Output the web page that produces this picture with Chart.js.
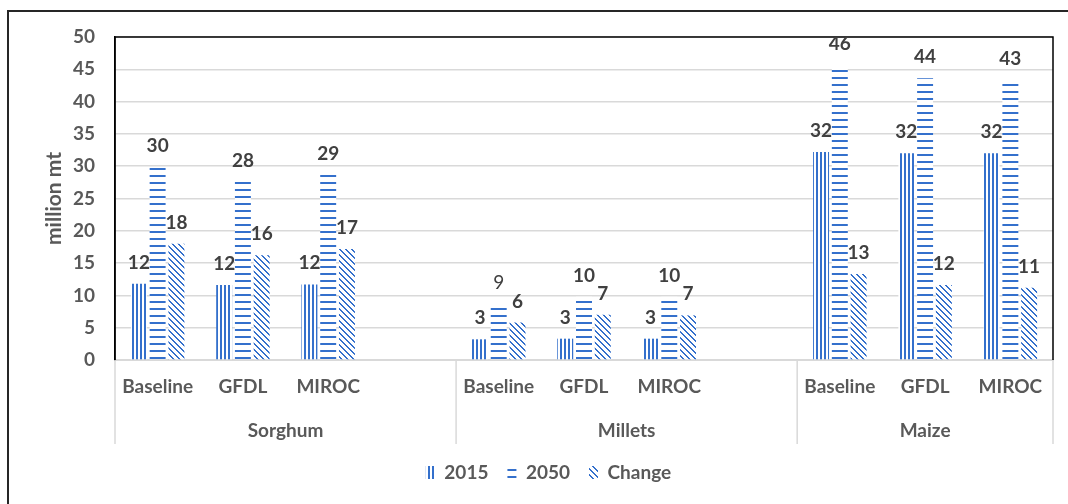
<!DOCTYPE html>
<html>
<head>
<meta charset="utf-8">
<script src="https://cdn.jsdelivr.net/npm/chart.js@4.4.1/dist/chart.umd.min.js"></script>
<style>
  html, body { margin: 0; padding: 0; background: #fff; }
  #wrap { width: 1068px; height: 504px; }
</style>
</head>
<body>
<div id="wrap"><canvas id="chart" width="1068" height="504"></canvas></div>
<script>
// Categorias (com espaços vazios entre os grupos, como no Excel)
const categories = ['Baseline', 'GFDL', 'MIROC', '', 'Baseline', 'GFDL', 'MIROC', '', 'Baseline', 'GFDL', 'MIROC'];
const groups = ['Sorghum', 'Millets', 'Maize'];
const groupRanges = [[0, 3], [4, 7], [8, 10]];

// Valores (million mt)
const values2015 = [11.8, 11.6, 11.7, null, 3.2, 3.3, 3.3, null, 32.2, 32.0, 32.0];
const values2050 = [29.8, 27.6, 28.7, null, 8.7, 9.8, 9.8, null, 45.6, 43.6, 43.3];
const valuesChange = [18.0, 16.2, 17.2, null, 5.8, 7.0, 6.9, null, 13.3, 11.6, 11.2];

const yMin = 0, yMax = 50, yStep = 5;

const BLUE = '#3470cc';
const FONT = 'Lato, "Open Sans", sans-serif';

// Padrões das barras
function criarPadrao(w, h, desenhar) {
    const c = document.createElement('canvas');
    c.width = w; c.height = h;
    const g = c.getContext('2d');
    g.fillStyle = '#fff';
    g.fillRect(0, 0, w, h);
    g.fillStyle = BLUE;
    desenhar(g);
    return g.createPattern(c, 'repeat');
}

const padraoVertical = criarPadrao(4, 4, g => g.fillRect(0, 0, 2, 4));
const padraoHorizontal = criarPadrao(4, 7, g => g.fillRect(0, 0, 4, 2));
const padraoDiagonal = criarPadrao(6, 6, g => {
    for (let i = 0; i < 6; i++) {
        g.fillRect(i, i, 1, 1);
        g.fillRect((i + 1) % 6, i, 1, 1);
    }
});

// Moldura externa e borda da área do gráfico
const molduraPlugin = {
    id: 'moldura',
    beforeDraw(chart) {
        const ctx = chart.ctx;
        ctx.save();
        ctx.fillStyle = '#fff';
        ctx.fillRect(0, 0, chart.width, chart.height);
        ctx.strokeStyle = '#262626';
        ctx.lineWidth = 2;
        ctx.strokeRect(8, 11, 1200, 700);
        ctx.restore();
    },
    beforeDatasetsDraw(chart) {
        const { ctx, chartArea: a } = chart;
        ctx.save();
        ctx.strokeStyle = '#000';
        ctx.lineWidth = 1.5;
        ctx.beginPath();
        ctx.moveTo(a.left, a.bottom);
        ctx.lineTo(a.left, a.top);
        ctx.lineTo(a.right, a.top);
        ctx.lineTo(a.right, a.bottom);
        ctx.stroke();
        ctx.restore();
    }
};

// Rótulos de dados acima das barras
const rotulosPlugin = {
    id: 'rotulos',
    afterDatasetsDraw(chart) {
        const { ctx, chartArea: a } = chart;
        ctx.save();
        ctx.beginPath();
        ctx.rect(a.left, a.top, a.right - a.left, a.bottom - a.top);
        ctx.clip();
        ctx.fillStyle = '#404040';
        ctx.textAlign = 'center';
        ctx.textBaseline = 'alphabetic';
        chart.data.datasets.forEach((ds, di) => {
            chart.getDatasetMeta(di).data.forEach((el, i) => {
                const v = ds.data[i];
                if (v == null) return;
                // no original o rótulo "9" de Millets/Baseline aparece sem negrito
                const peso = (di === 1 && i === 4) ? 'normal' : 'bold';
                ctx.font = peso + ' 19px ' + FONT;
                ctx.fillText(String(Math.round(v)), el.x, el.y - 15);
            });
        });
        ctx.restore();
    }
};

// Eixo de categorias em dois níveis
const gruposPlugin = {
    id: 'grupos',
    afterDraw(chart) {
        const { ctx, chartArea: a } = chart;
        const x = chart.scales.x;
        const meio = (x.getPixelForValue(1) - x.getPixelForValue(0)) / 2;
        ctx.save();
        ctx.strokeStyle = '#d9d9d9';
        ctx.lineWidth = 1.5;
        const divisorias = [a.left];
        groupRanges.forEach(r => divisorias.push(x.getPixelForValue(r[1]) + meio));
        divisorias.forEach(px => {
            ctx.beginPath();
            ctx.moveTo(px, a.bottom);
            ctx.lineTo(px, a.bottom + 84);
            ctx.stroke();
        });
        ctx.fillStyle = '#595959';
        ctx.font = 'bold 19px ' + FONT;
        ctx.textAlign = 'center';
        ctx.textBaseline = 'middle';
        groups.forEach((nome, gi) => {
            const r = groupRanges[gi];
            const ini = x.getPixelForValue(r[0]) - meio;
            const fim = x.getPixelForValue(r[1]) + meio;
            ctx.fillText(nome, (ini + fim) / 2, a.bottom + 71);
        });
        ctx.restore();
    }
};

const grafico = new Chart(document.getElementById('chart'), {
    type: 'bar',
    data: {
        labels: categories,
        datasets: [
            { label: '2015', data: values2015, backgroundColor: padraoVertical, borderWidth: 0 },
            { label: '2050', data: values2050, backgroundColor: padraoHorizontal, borderWidth: 0 },
            { label: 'Change', data: valuesChange, backgroundColor: padraoDiagonal, borderWidth: 0 }
        ]
    },
    options: {
        responsive: false,
        animation: false,
        layout: { padding: { top: 37, right: 15, left: 44, bottom: 12 } },
        datasets: { bar: { categoryPercentage: 0.66, barPercentage: 0.85 } },
        scales: {
            x: {
                grid: { display: false, drawTicks: false },
                border: { color: '#d9d9d9', width: 2 },
                ticks: {
                    autoSkip: false, maxRotation: 0, padding: 15,
                    color: '#595959', font: { family: FONT, size: 19, weight: 'bold' }
                },
                afterFit(scale) { scale.height = 84; }
            },
            y: {
                min: yMin, max: yMax,
                grid: { color: '#d9d9d9', lineWidth: 1.5, drawTicks: false },
                border: { color: '#000', width: 1.5 },
                ticks: {
                    stepSize: yStep, padding: 20,
                    color: '#595959', font: { family: FONT, size: 19, weight: 'bold' }
                },
                title: {
                    display: true, text: 'million mt', color: '#595959',
                    font: { family: FONT, size: 21, weight: 'bold' },
                    padding: { top: -2, bottom: 0 }
                },
                afterFit(scale) { scale.width = 71; }
            }
        },
        plugins: {
            legend: {
                position: 'bottom',
                labels: {
                    boxWidth: 9, boxHeight: 13, padding: 19,
                    color: '#595959', font: { family: FONT, size: 19, weight: 'bold' }
                }
            },
            tooltip: { enabled: false }
        }
    },
    plugins: [molduraPlugin, rotulosPlugin, gruposPlugin]
});
</script>
</body>
</html>
